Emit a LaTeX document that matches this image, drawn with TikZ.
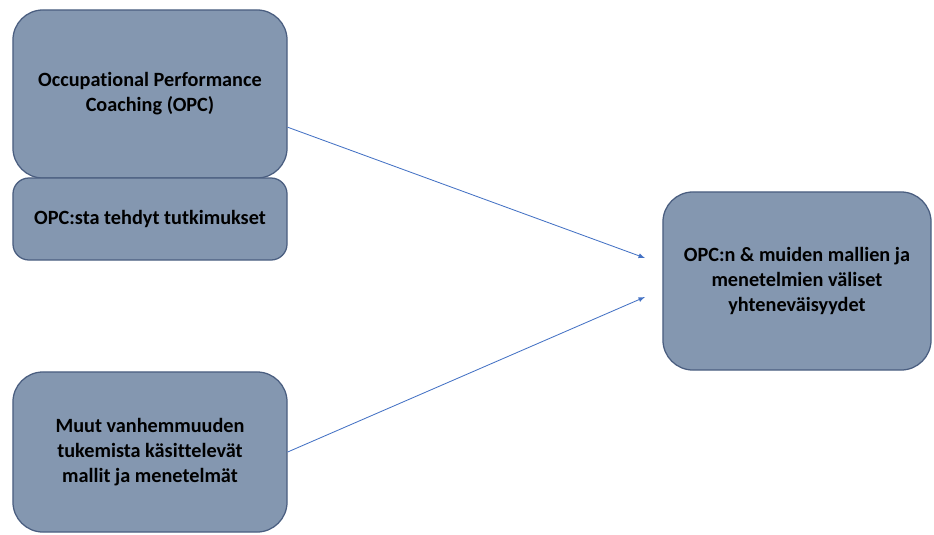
\documentclass[tikz,border=0pt]{standalone}
\usepackage{fontspec}
\setmainfont[Ligatures=NoCommon]{Carlito}
\usepackage{tikz}
\usetikzlibrary{arrows}

\definecolor{boxfill}{HTML}{8497B0}
\definecolor{boxline}{HTML}{4A5E80}
\definecolor{arrowblue}{HTML}{4472C4}

\tikzset{
  topic/.style={draw=boxline, line width=0.9pt, fill=boxfill, rounded corners=0.75cm,
    align=center, font=\fontsize{14.4}{17.8}\selectfont\bfseries, inner sep=0pt},
  link/.style={->, >=latex, draw=arrowblue, line width=0.6pt}
}

\begin{document}
\begin{tikzpicture}[x=0.025cm, y=-0.025cm]
        \useasboundingbox (0,0) rectangle (934,534);

        \node[topic, minimum width=6.85cm, minimum height=4.2cm] (opc) at (150, 94)
          {Occupational Performance\\Coaching (OPC)};
        \node[topic, rounded corners=0.4cm, minimum width=6.85cm, minimum height=2.05cm] (res) at (150, 219)
          {OPC:sta tehdyt tutkimukset};
        \node[topic, minimum width=6.85cm, minimum height=4cm] (muut) at (150, 452)
          {Muut vanhemmuuden\\tukemista käsittelevät\\mallit ja menetelmät};
        \node[topic, minimum width=6.7cm, minimum height=4.45cm] (yht) at (797, 281)
          {OPC:n \& muiden mallien ja\\menetelmien väliset\\yhteneväisyydet};

        \coordinate (in1) at (645, 258);
        \coordinate (in2) at (645, 297);
        \draw[link] ([yshift=-0.83cm]opc.east) to (in1);
        \draw[link] (muut.east) to (in2);
      \end{tikzpicture}
\end{document}
